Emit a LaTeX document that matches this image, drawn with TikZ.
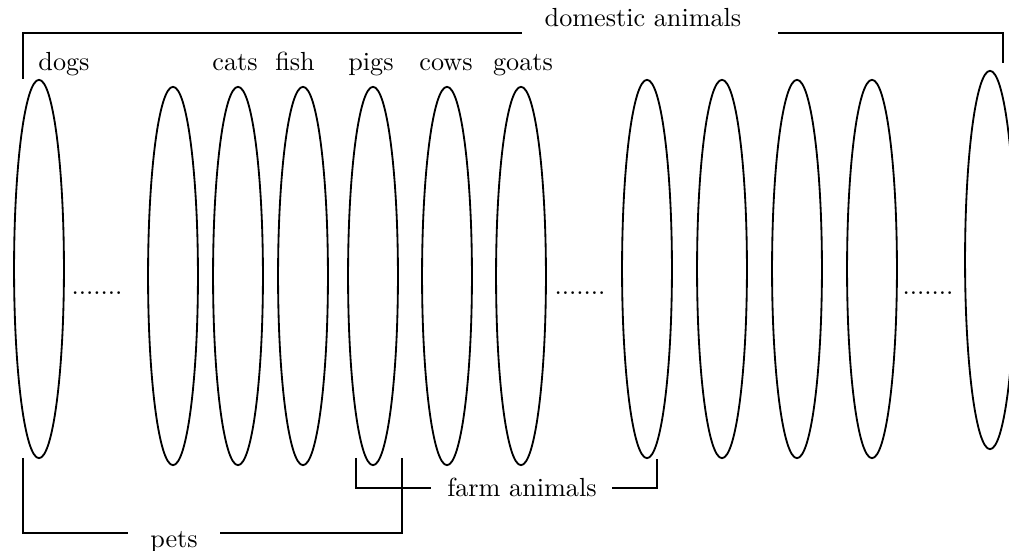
\documentclass[tikz,border=0pt]{standalone}
\usepackage{tikz}
\usetikzlibrary{shapes.geometric,positioning}

\tikzset{
  animalset/.style={draw, ellipse, inner sep=0pt, minimum width=0.67cm, minimum height=5.08cm, line width=0.7pt},
  setlabel/.style={anchor=base, inner sep=0pt},
  bracket/.style={line width=0.7pt},
}

\begin{document}
\begin{tikzpicture}[x=0.01343cm,y=-0.01343cm]
  % frame of the picture, 1009 x 551 units
  \clip (0,0) rectangle (1009,551);
  % the sets, one ellipse each
  \node[animalset] (dogs) at (39,269) {};
  \foreach \name/\x in {e2/173, cats/238, fish/303, pigs/373, cows/447, goats/521}
    \node[animalset] (\name) at (\x,276) {};
  \foreach \name/\x in {e8/647, e9/722, e10/797, e11/872}
    \node[animalset] (\name) at (\x,269) {};
  \node[animalset] (e12) at (990,260) {};
  % names above the sets
  \node[setlabel] (dogslbl)  at (64,71)  {dogs};
  \node[setlabel] (catslbl)  at (235,71) {cats};
  \node[setlabel] (fishlbl)  at (295,71) {fish};
  \node[setlabel] (pigslbl)  at (371,71) {pigs};
  \node[setlabel] (cowslbl)  at (446,71) {cows};
  \node[setlabel] (goatslbl) at (523,71) {goats};
  % gaps
  \node[setlabel] (dotsA) at (97,295)  {.......};
  \node[setlabel] (dotsB) at (580,295) {.......};
  \node[setlabel] (dotsC) at (928,295) {.......};
  % domestic animals
  \node[setlabel] (domestic) at (643,27) {domestic animals};
  \coordinate (domL) at (23,79);
  \coordinate (domLend) at (522,33);
  \coordinate (domRend) at (778,33);
  \coordinate (domR) at (1003,63);
  \draw[bracket] (domL) |- (domLend);
  \draw[bracket] (domRend) -| (domR);
  % pets
  \node[setlabel] (pets) at (174,548) {pets};
  \coordinate (petsL) at (23,458);
  \coordinate (petsLend) at (128,533);
  \coordinate (petsRend) at (220,533);
  \coordinate (petsR) at (402,458);
  \draw[bracket] (petsL) |- (petsLend);
  \draw[bracket] (petsRend) -| (petsR);
  % farm animals
  \node[setlabel] (farm) at (522,497) {farm animals};
  \coordinate (farmL) at (356,458);
  \coordinate (farmLend) at (431,488);
  \coordinate (farmRend) at (612,488);
  \coordinate (farmR) at (657,459);
  \draw[bracket] (farmL) |- (farmLend);
  \draw[bracket] (farmRend) -| (farmR);
\end{tikzpicture}
\end{document}
